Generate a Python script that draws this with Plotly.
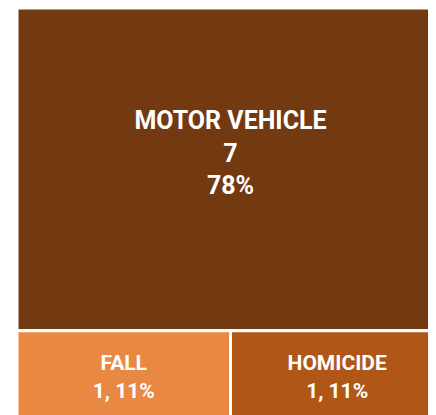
import plotly.graph_objects as go

# data
ids = ['MOTOR VEHICLE', 'OTHER', 'FALL', 'HOMICIDE']
labels = ['MOTOR VEHICLE', '', 'FALL', 'HOMICIDE']
parents = ['', '', 'OTHER', 'OTHER']
values = [7, 0, 1, 1]
colors = ['#733910', '#FFFFFF', '#E88842', '#B05717']

templates = ['%{label}<br>%{value}<br>%{percentRoot:.0%}<br> ', '',
             '%{label}<br>%{value}, %{percentRoot:.0%}',
             '%{label}<br>%{value}, %{percentRoot:.0%}']
font_sizes = [25, 1, 21, 21]

fig = go.Figure(go.Treemap(
    ids=ids, labels=labels, parents=parents, values=values,
    branchvalues='remainder',
    marker=dict(colors=colors, line=dict(color='white', width=3),
                pad=dict(t=0, l=0, r=0, b=0)),
    tiling=dict(packing='dice-slice', pad=0),
    texttemplate=templates,
    textposition='middle center',
    textfont=dict(family='Roboto, Liberation Sans, Arial',
                  size=font_sizes, color='white', weight='bold'),
    pathbar=dict(visible=False),
    root=dict(color='white'),
    hoverinfo='skip',
    sort=False,
))

fig.update_layout(
    width=436, height=415,
    margin=dict(l=9, r=0, t=0, b=0),
    paper_bgcolor='white',
    showlegend=False,
)

fig.write_html("out.html")
